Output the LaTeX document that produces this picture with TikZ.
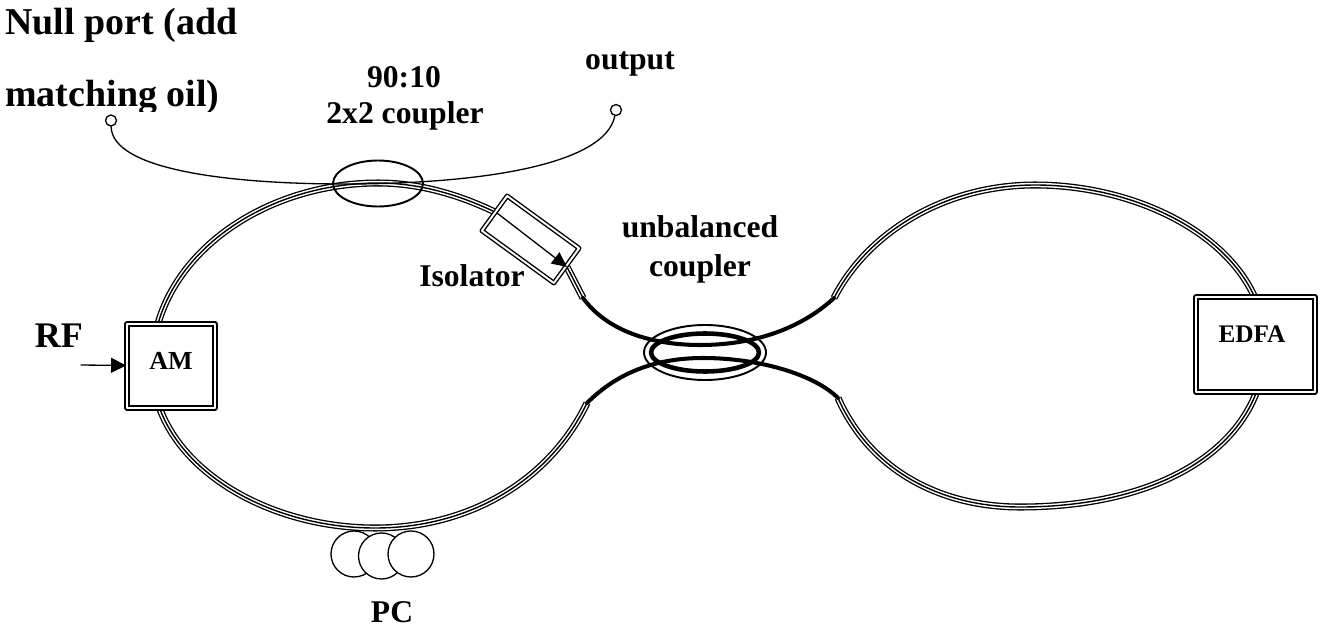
\documentclass[tikz,border=0pt]{standalone}
\usepackage{fontspec}
\setmainfont{Liberation Serif}
\usetikzlibrary{arrows, arrows.meta, calc}
\tikzset{
	fibre/.style={draw=black, line cap=butt, line width=0.75pt, double=white, double distance=2.5pt,
		postaction={draw=black, line width=0.8pt}},
	thickfibre/.style={draw=black, line width=2.3pt},
	thinfibre/.style={draw=black, line width=0.75pt},
	frame/.style={draw=black, fill=white, line width=#1, double=white, double distance=1.1pt},
	lab/.style={font=\bfseries\fontsize{#1}{#1}\selectfont, inner sep=0pt},
	port/.style={draw=black, fill=white, circle, line width=0.75pt, minimum size=0.22cm, inner sep=0pt},
	paddle/.style={draw=black, fill=white, circle, line width=0.75pt, minimum size=0.92cm, inner sep=0pt},
}
\begin{document}
\begin{tikzpicture}[>=Latex, line cap=round, line join=round, x=0.02cm, y=-0.02cm]
	\useasboundingbox (0,0) rectangle (1328,628);

	%========================
	% Left loop
	%========================
	\coordinate (isoin) at (497,213);
	\coordinate (isoout) at (567,267);
	\coordinate (upL) at (583,298);
	\coordinate (lowL) at (587,403);
	\draw[fibre] (isoin) .. controls (460,195) and (420,183) .. (378,183)
		.. controls (260,183) and (152,260) .. (152,366)
		.. controls (152,460) and (260,528) .. (375,528)
		.. controls (470,528) and (550,480) .. (lowL);
	\draw[fibre] (isoout) -- (upL);

	%========================
	% Right loop
	%========================
	\coordinate (upR) at (834,298);
	\coordinate (lowR) at (838,398);
	\draw[fibre] (upR) .. controls (868,232) and (945,185) .. (1035,185)
		.. controls (1150,185) and (1265,250) .. (1265,345)
		.. controls (1265,440) and (1170,507) .. (1020,507)
		.. controls (940,507) and (870,470) .. (lowR);

	%========================
	% Unbalanced coupler
	%========================
	\draw[thickfibre] (upL) .. controls (610,335) and (660,345) .. (700,345)
		.. controls (760,345) and (805,325) .. (upR);
	\draw[thickfibre] (lowL) .. controls (620,370) and (660,358) .. (703,358)
		.. controls (760,358) and (815,375) .. (lowR);
	\coordinate (cplr) at (705,352.5);
	\draw[black, line width=1.1pt] (cplr) ellipse [x radius=61, y radius=27.5];
	\draw[black, line width=2.6pt] (cplr) ellipse [x radius=54, y radius=19];

	%========================
	% Output coupler and ports
	%========================
	\node[port] (nullport) at (111,120.5) {};
	\node[port] (outport) at (616,110) {};
	\draw[thinfibre] (nullport) .. controls (112,170) and (230,184) .. (345,184)
		.. controls (480,184) and (605,165) .. (outport);
	\draw[black, line width=1.1pt] (378,183.5) ellipse [x radius=45, y radius=23];

	%========================
	% Boxes
	%========================
	\node[frame=0.8pt, rotate=-36, minimum width=1.78cm, minimum height=0.86cm] (iso) at (530.5,239.5) {};
	\draw[black, line width=0.75pt, -{Triangle[length=0.3cm,width=0.28cm]}] (isoin) -- (isoout);
	\node[frame=1.1pt, minimum width=1.76cm, minimum height=1.68cm] (am) at (171,366) {};
	\node[frame=1.1pt, minimum width=2.38cm, minimum height=1.90cm] (edfa) at (1255.5,344.5) {};
	\coordinate (rfin) at (81,365);
	\draw[black, line width=0.75pt, -{Triangle[length=0.3cm,width=0.3cm]}] (rfin) -- (am);

	% polarisation controller
	\node[paddle] (pcA) at (354,554) {};
	\node[paddle] (pcB) at (381.5,556) {};
	\node[paddle] (pcC) at (411,554) {};

	%========================
	% Labels
	%========================
	\node[lab=21.6pt, anchor=base west] (nulltxt) at (5,35) {Null port (add};
	\begin{scope}
		\clip (0,0) rectangle (300,112);
		\node[lab=21.6pt, anchor=base west] (oiltxt) at (5,107) {matching oil)};
	\end{scope}
	\node[lab=18pt, anchor=base] (ratiotxt) at (404,88) {90:10};
	\node[lab=18pt, anchor=base] (typetxt) at (405,124) {2x2 coupler};
	\node[lab=18pt, anchor=base] (outtxt) at (630,70) {output};
	\node[lab=18pt, anchor=base] (isotxt) at (472,286) {Isolator};
	\node[lab=18pt, anchor=base] (unbaltxt) at (700,237) {unbalanced};
	\node[lab=18pt, anchor=base] (cplrtxt) at (700,276) {coupler};
	\node[lab=20.5pt] (rftxt) at (59,336) {RF};
	\node[lab=14.8pt] (amtxt) at (171,361) {AM};
	\node[lab=14.4pt] (edfatxt) at (1252,334) {EDFA};
	\node[lab=18pt, anchor=base] (pctxt) at (392,622) {PC};
\end{tikzpicture}
\end{document}
